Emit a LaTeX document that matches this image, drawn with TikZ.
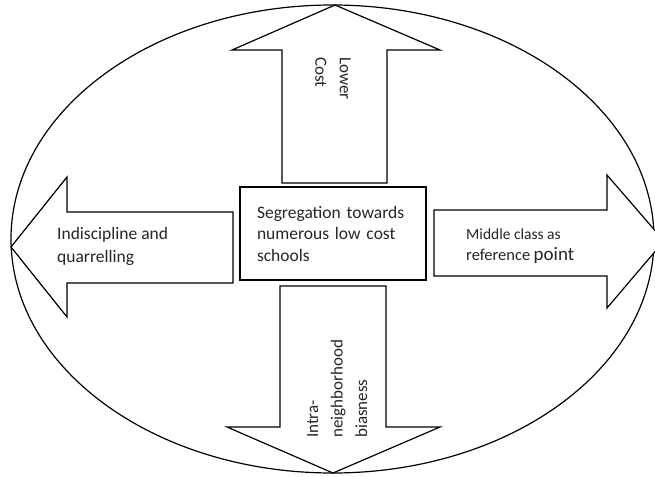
\documentclass[tikz,border=0pt]{standalone}
\usepackage{fontspec}
\setmainfont{Carlito}
\begin{document}
\begin{tikzpicture}[x=1pt, y=-1pt,
        block/.style={draw, fill=white, line width=1.2pt, line join=miter},
        lbl/.style={font=\fontsize{17}{24.5}\selectfont, text=black!85, align=left, inner sep=0pt},
        hub/.style={rectangle, draw, line width=1.3pt, minimum width=186pt, minimum height=93pt,
            text width=152pt, align=left, inner sep=0pt, text=black!85,
            font=\fontsize{17.5}{21.5}\selectfont}
    ]
        \useasboundingbox (0,0) rectangle (655,476);
        \draw[line width=1.2pt] (332.5,239) ellipse [x radius=321.5, y radius=234];
        % four block arrows
        \draw[block] (282,183) -- (282,50) -- (232,50) -- (335,5) -- (440,50) -- (387,50) -- (387,183) -- cycle;
        \draw[block] (280,286) -- (280,427) -- (227,427) -- (333,473) -- (440,427) -- (386,427) -- (386,286) -- cycle;
        \draw[block] (233,212) -- (67,212) -- (67,177) -- (11,247) -- (67,317) -- (67,283) -- (233,283) -- cycle;
        \draw[block] (434,210) -- (607,210) -- (607,175) -- (664,241) -- (607,308) -- (607,276) -- (434,276) -- cycle;
        \node[hub] (seg) at (333,233.5)
            {Segregation towards\\numerous low cost\\schools};
        \node[lbl, rotate=-90, anchor=north west] (cost) at (351,57) {Lower\\Cost};
        \node[lbl, rotate=90, anchor=north west] (bias) at (307,438)
            {Intra-\\neighborhood\\biasness};
        % base anchor sits on the last line
        \node[lbl, font=\fontsize{17.5}{23.5}\selectfont, anchor=base west] (indis) at (57,262.5)
            {Indiscipline and\\quarrelling};
        \node[lbl, font=\fontsize{15.5}{21.5}\selectfont, anchor=base west] (middle) at (466,260.5)
            {Middle class as\\{\fontsize{16.5}{21.5}\selectfont reference} {\fontsize{19}{21.5}\selectfont point}};
    \end{tikzpicture}
\end{document}
